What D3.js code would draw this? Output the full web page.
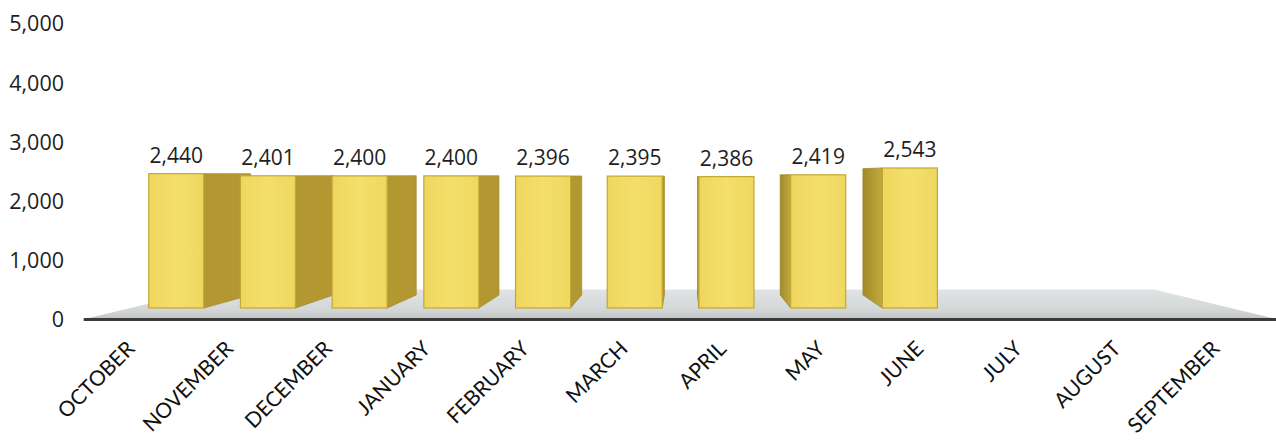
<!DOCTYPE html>
<html>
<head>
<meta charset="utf-8">
<script src="https://cdn.jsdelivr.net/npm/d3@7"></script>
<style>
  body { margin: 0; background: #ffffff; }
</style>
</head>
<body>
<svg width="1276" height="443"></svg>
<script>
// Months on the category axis
const months = ['OCTOBER', 'NOVEMBER', 'DECEMBER', 'JANUARY', 'FEBRUARY', 'MARCH',
    'APRIL', 'MAY', 'JUNE', 'JULY', 'AUGUST', 'SEPTEMBER'];
// Values, only Oct - Jun filled in
const counts = [2440, 2401, 2400, 2400, 2396, 2395, 2386, 2419, 2543];
// Value axis ticks
const yTicks = [0, 1000, 2000, 3000, 4000, 5000];

// perspective: vanishing point and depths (0 = front of floor)
const vp = [684, 175];
const barNear = 0.07;
const barFar = 0.161;
const floorBack = 0.2;

function project(px, py, t) {
    return [vp[0] + (px - vp[0]) * (1 - t), vp[1] + (py - vp[1]) * (1 - t)];
}

const svg = d3.select("svg");
const fmt = d3.format(",");

const x = d3.scaleBand()
    .domain(months)
    .range([88.7, 1272])
    .paddingInner(0.4)
    .paddingOuter(0.2);

const y = d3.scaleLinear()
    .domain([0, 5000])
    .range([318, 22]);

const line = d3.line();

// gradients
const defs = svg.append("defs");
const floorGrad = defs.append("linearGradient")
    .attr("id", "floorGrad")
    .attr("x1", 0).attr("y1", 0).attr("x2", 0).attr("y2", 1);
floorGrad.append("stop").attr("offset", "0%").attr("stop-color", "#e1e4e4");
floorGrad.append("stop").attr("offset", "70%").attr("stop-color", "#d4d7d7");
floorGrad.append("stop").attr("offset", "100%").attr("stop-color", "#c6c8c8");

const leftSideGrad = defs.append("linearGradient")
    .attr("id", "leftSide")
    .attr("x1", 0).attr("y1", 0).attr("x2", 1).attr("y2", 0);
leftSideGrad.append("stop").attr("offset", "0%").attr("stop-color", "#a08b28");
leftSideGrad.append("stop").attr("offset", "100%").attr("stop-color", "#c3aa3e");

const frontGrad = defs.append("linearGradient")
    .attr("id", "front")
    .attr("x1", 0).attr("y1", 0).attr("x2", 1).attr("y2", 0);
frontGrad.append("stop").attr("offset", "0%").attr("stop-color", "#efd75e");
frontGrad.append("stop").attr("offset", "50%").attr("stop-color", "#f4df6c");
frontGrad.append("stop").attr("offset", "100%").attr("stop-color", "#eed85f");

// Floor
const x0 = x.range()[0], x1 = x.range()[1];
const floorPts = [
    project(x0, y(0), 0),
    project(x1, y(0), 0),
    project(x1, y(0), floorBack),
    project(x0, y(0), floorBack)
];
svg.append("path")
    .attr("d", line(floorPts) + "Z")
    .attr("fill", "url(#floorGrad)");

// front edge of floor
svg.append("line")
    .attr("x1", x0 - 5)
    .attr("y1", y(0) + 1.5)
    .attr("x2", 1276)
    .attr("y2", y(0) + 1.5)
    .style("stroke", "#3a3a3a")
    .style("stroke-width", 3);

// Bars, drawn from the outside in so nearer ones cover the sides
const bars = counts.map((v, i) => ({ month: months[i], value: v }));
const cx = d => x(d.month) + x.bandwidth() / 2;
bars.sort((a, b) => Math.abs(cx(b) - vp[0]) - Math.abs(cx(a) - vp[0]));

const barG = svg.append("g");
bars.forEach(function (d) {
    const xl = x(d.month);
    const xr = xl + x.bandwidth();
    const yt = y(d.value);
    const yb = y(0);
    const g = barG.append("g");

    // side face
    if (xr < vp[0]) {
        g.append("path")
            .attr("d", line([project(xr, yt, barNear), project(xr, yt, barFar),
                project(xr, yb, barFar), project(xr, yb, barNear)]) + "Z")
            .attr("fill", "#b39831")
            .attr("stroke", "#a68c2c")
            .attr("stroke-width", 0.8);
    } else if (xl > vp[0]) {
        g.append("path")
            .attr("d", line([project(xl, yt, barNear), project(xl, yt, barFar),
                project(xl, yb, barFar), project(xl, yb, barNear)]) + "Z")
            .attr("fill", "url(#leftSide)")
            .attr("stroke", "#9a862a")
            .attr("stroke-width", 0.8);
    }
    // top face, only when below eye level
    if (yt > vp[1]) {
        g.append("path")
            .attr("d", line([project(xl, yt, barNear), project(xr, yt, barNear),
                project(xr, yt, barFar), project(xl, yt, barFar)]) + "Z")
            .attr("fill", "#f7e98e");
    }
    // front face
    const p0 = project(xl, yt, barNear);
    const p1 = project(xr, yb, barNear);
    g.append("rect")
        .attr("x", p0[0])
        .attr("y", p0[1])
        .attr("width", p1[0] - p0[0])
        .attr("height", p1[1] - p0[1])
        .attr("fill", "url(#front)")
        .attr("stroke", "#c2a736")
        .attr("stroke-width", 1.2);
});

// value labels
svg.append("g")
    .selectAll("text")
    .data(bars)
    .enter()
    .append("text")
    .attr("x", d => project(cx(d), y(d.value), barNear)[0])
    .attr("y", d => project(cx(d), y(d.value), barNear)[1] - 11)
    .attr("text-anchor", "middle")
    .style("font-family", "'Open Sans', sans-serif")
    .style("font-size", "21px")
    .style("fill", "#1e1e1e")
    .text(d => fmt(d.value));

// value axis (labels only)
const yAxis = svg.append("g")
    .attr("transform", "translate(64,2)")
    .call(d3.axisLeft(y).tickValues(yTicks).tickSize(0).tickPadding(0).tickFormat(fmt));
yAxis.select(".domain").remove();
yAxis.selectAll("text")
    .style("font-family", "'Open Sans', sans-serif")
    .style("font-size", "21.5px")
    .style("fill", "#1e1e1e");

// month axis at the front edge of the floor
const xAxis = svg.append("g")
    .attr("transform", "translate(0,350)")
    .call(d3.axisBottom(x).tickSize(0).tickPadding(0));
xAxis.select(".domain").remove();
xAxis.selectAll("text")
    .attr("x", 0)
    .attr("y", 0)
    .attr("dy", 0)
    .attr("transform", "translate(-2,0) rotate(-45)")
    .style("text-anchor", "end")
    .style("font-family", "Lato, sans-serif")
    .style("font-size", "21px")
    .style("fill", "#111");
</script>
</body>
</html>
